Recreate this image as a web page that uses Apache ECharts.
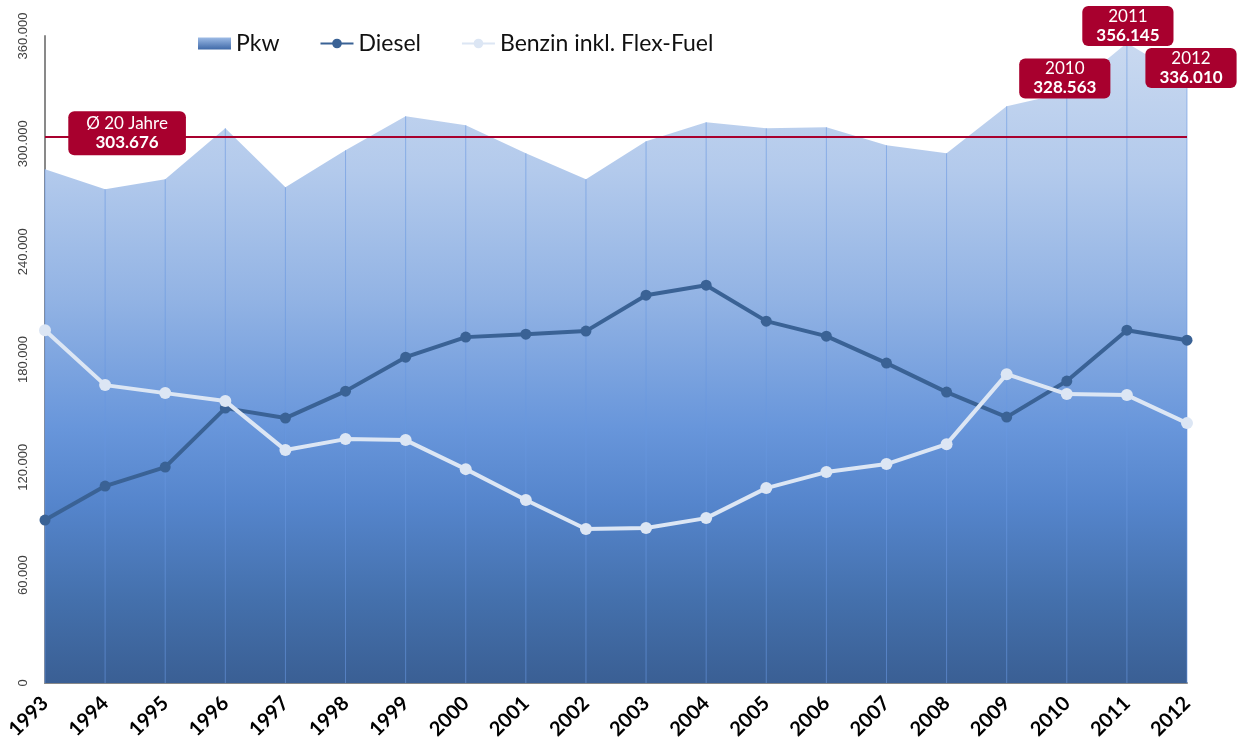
<!DOCTYPE html>
<html>
<head>
<meta charset="utf-8">
<script src="https://cdn.jsdelivr.net/npm/echarts@6/dist/echarts.min.js"></script>
<style>
html,body{margin:0;padding:0;background:#fff;}
#chart{width:1237px;height:753px;}
</style>
</head>
<body>
<div id="chart"></div>
<script>
var years = ['1993','1994','1995','1996','1997','1998','1999','2000','2001','2002','2003','2004','2005','2006','2007','2008','2009','2010','2011','2012'];
var pkw = [285900,274750,280300,308700,275900,296400,315350,310350,294800,280300,301450,312000,308700,309200,299200,294800,320900,328563,356145,336010];
var diesel = [90650,109550,120150,152950,147400,162400,181300,192450,194100,195800,215800,221350,201350,193000,178000,161850,147950,168000,196300,190750];
var benzin = [196300,165750,161300,156850,129600,135700,135150,119000,101800,85650,86200,91750,108450,117350,121800,132900,171850,160750,160200,144600];
var average = 303676;
var yTicks = [0,60000,120000,180000,240000,300000,360000];

function fmt(v){ return String(v).replace(/\B(?=(\d{3})+(?!\d))/g,'.'); }

var FONT = 'Lato, "Open Sans", sans-serif';
var RED = '#a8002e';

var areaGrad = new echarts.graphic.LinearGradient(0,0,0,1,[
  {offset:0, color:'#c9d9f0'},
  {offset:0.2, color:'#b3caec'},
  {offset:0.4, color:'#92b3e4'},
  {offset:0.6, color:'#6896db'},
  {offset:0.72, color:'#5585cc'},
  {offset:0.87, color:'#4470ac'},
  {offset:1, color:'#3a5f94'}
]);
var legendGrad = new echarts.graphic.LinearGradient(0,0,0,1,[
  {offset:0, color:'#9dbbe6'},
  {offset:1, color:'#3f69a8'}
]);

function boxLabel(top, bottom, dx, dy, sym){
  return {
    show:true, position:'inside', offset:[dx,dy],
    formatter: '{a|'+top+'}\n{b|'+bottom+'}',
    backgroundColor: RED, borderRadius:6,
    padding: sym ? [3,18,3,18] : [1,14,1,14],
    rich:{
      a:{color:'#fff', fontFamily:FONT, fontSize:17, lineHeight:19, align:'center'},
      b:{color:'#fff', fontFamily:FONT, fontSize:17, fontWeight:'bold', lineHeight:19, align:'center'}
    }
  };
}

var chart = echarts.init(document.getElementById('chart'), null, {renderer:'canvas'});
chart.setOption({
  animation:false,
  grid:{left:45, right:50, top:36, bottom:70, containLabel:false},
  legend:{
    left:193, top:27,
    itemGap:40, itemWidth:33, itemHeight:12,
    textStyle:{fontFamily:FONT, fontSize:23, color:'#111'},
    data:[
      {name:'Pkw', icon:'rect', itemStyle:{color:legendGrad}},
      {name:'Diesel'},
      {name:'Benzin inkl. Flex-Fuel'}
    ]
  },
  xAxis:{
    type:'category', data:years, boundaryGap:false,
    axisLine:{show:true, lineStyle:{color:'#898989', width:2}},
    axisTick:{show:false},
    splitLine:{show:false},
    axisLabel:{rotate:45, margin:17, fontFamily:FONT, fontSize:20, fontWeight:'bold', color:'#000', interval:0}
  },
  yAxis:{
    type:'value', min:0, max:360000, interval:60000,
    axisLine:{show:true, lineStyle:{color:'#898989', width:2}},
    axisTick:{show:false},
    splitLine:{show:false},
    axisLabel:{rotate:90, margin:15, fontFamily:'"Liberation Sans", sans-serif', fontSize:13, color:'#404040',
      formatter:function(v){ return fmt(v); }}
  },
  series:[
    {
      name:'Pkw', type:'line', data:pkw, z:1,
      showSymbol:false, symbol:'none',
      lineStyle:{width:0, color:'#b3caec'},
      itemStyle:{color:legendGrad},
      areaStyle:{color:areaGrad, opacity:1},
      silent:true
    },
    {
      name:'drop', type:'bar', data:pkw, z:2, barWidth:1,
      itemStyle:{color:'rgba(105,152,225,0.6)'},
      silent:true
    },
    {
      name:'Diesel', type:'line', data:diesel, z:3,
      symbol:'circle', symbolSize:11, showSymbol:true,
      lineStyle:{width:4, color:'#3a6295'},
      itemStyle:{color:'#3a6295'}
    },
    {
      name:'Benzin inkl. Flex-Fuel', type:'line', data:benzin, z:4,
      symbol:'circle', symbolSize:12, showSymbol:true,
      lineStyle:{width:4, color:'#dce6f4'},
      itemStyle:{color:'#dce6f4'},
      markLine:{
        silent:true, symbol:'none', animation:false,
        lineStyle:{color:RED, width:2, type:'solid'},
        label:{show:false},
        data:[{yAxis:average}]
      },
      markPoint:{
        silent:true, symbol:'circle', symbolSize:1,
        itemStyle:{color:'rgba(0,0,0,0)'},
        data:[
          {coord:[years[1], average], label:boxLabel('Ø 20 Jahre', fmt(average), 22, -4, true)},
          {coord:[years[17], pkw[17]], label:boxLabel(years[17], fmt(pkw[17]), -2, -14)},
          {coord:[years[18], pkw[18]], label:boxLabel(years[18], fmt(pkw[18]), 1, -17)},
          {coord:[years[19], pkw[19]], label:boxLabel(years[19], fmt(pkw[19]), 4, -11)}
        ]
      }
    }
  ]
});
</script>
</body>
</html>
